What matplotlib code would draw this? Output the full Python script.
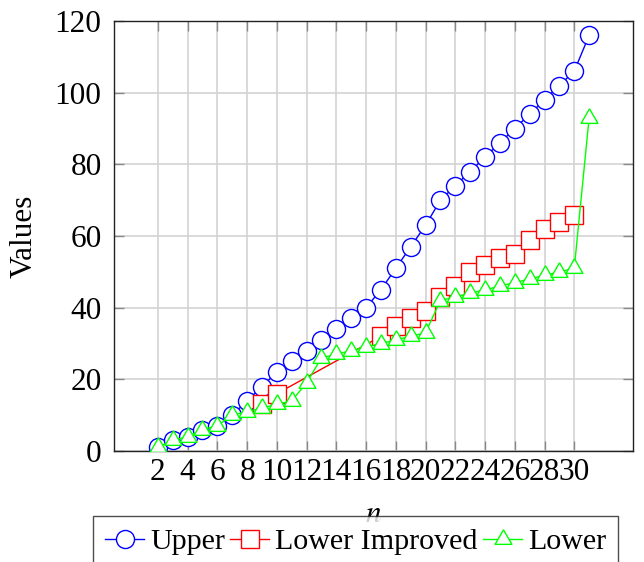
import matplotlib
matplotlib.use("Agg")
import matplotlib.pyplot as plt
import numpy as np

# Data
n_upper = list(range(2, 32))
upper = [1, 3, 4, 6, 7, 10, 14, 18, 22, 25, 28, 31, 34, 37, 40, 45, 51, 57, 63, 70,
         74, 78, 82, 86, 90, 94, 98, 102, 106, 116]
n_improved = [9, 10, 17, 18, 19, 20, 21, 22, 23, 24, 25, 26, 27, 28, 29, 30]
lower_improved = [13, 16, 32, 35, 37, 39, 43, 46, 50, 52, 54, 55, 59, 62, 64, 66]
n_lower = list(range(2, 32))
lower = [1, 3, 4, 6, 7, 10, 11, 12, 13, 14, 19, 26, 27, 28, 29, 30, 31, 32, 33, 42,
         43, 44, 45, 46, 47, 48, 49, 50, 51, 93]
xticks = list(range(2, 31, 2))
yticks = [0, 20, 40, 60, 80, 100, 120]
series_labels = ["Upper", "Lower Improved", "Lower"]

plt.rcParams['font.family'] = ['Liberation Serif', 'DejaVu Serif']
plt.rcParams['mathtext.fontset'] = 'stix'

FS = 22.5
LFS = 21.6
fig = plt.figure(figsize=(6.44, 5.62), dpi=100)
ax = fig.add_axes([114/644, 1-451/562, (633-114)/644, (451-21)/562])

tri = [(0, 1), (-0.866, -0.5), (0.866, -0.5), (0, 1)]
ax.plot(n_upper, upper, color='#0000ff', lw=1.0, marker='o', ms=13,
        mfc='white', mec='#0000ff', mew=1.0, label=series_labels[0], zorder=3)
ax.plot(n_improved, lower_improved, color='#ff0000', lw=1.0, marker='s', ms=13,
        mfc='white', mec='#ff0000', mew=1.0, label=series_labels[1], zorder=4)
ax.plot(n_lower, lower, color='#00ff00', lw=1.0, marker=tri, ms=14,
        mfc='white', mec='#00ff00', mew=1.0, label=series_labels[2], zorder=5)

ax.set_xlim(-0.95, 33.95)
ax.set_ylim(0, 120)
ax.set_xticks(xticks)
ax.set_yticks(yticks)
ax.set_xticklabels([str(v) for v in xticks])
ax.grid(True, color='#d3d3d3', lw=1.2, zorder=0)
ax.set_axisbelow(True)
ax.tick_params(direction='in', length=7, width=1.0, color='#888888',
               top=True, right=True, labelsize=FS)
ax.tick_params(axis='x', pad=5)
ax.tick_params(axis='y', pad=9)
for s in ax.spines.values():
    s.set_linewidth(1.0)
    s.set_color('#222222')

ax.set_ylabel("Values", fontsize=FS)
ax.yaxis.set_label_coords(-0.145, 0.5)
ax.set_xlabel("$n$", fontsize=FS)
ax.xaxis.set_label_coords(0.5, -0.115)

leg = fig.legend(loc='upper left', bbox_to_anchor=(93/644, 1-516/562),
                 bbox_transform=fig.transFigure, ncol=3, fontsize=LFS,
                 frameon=True, fancybox=False, edgecolor='#222222',
                 handlelength=1.3, handletextpad=0.2, columnspacing=0.18,
                 borderpad=0.4, borderaxespad=0)
leg.get_frame().set_linewidth(1.0)
leg.set_zorder(10)

fig.savefig("out.png", dpi=100)
